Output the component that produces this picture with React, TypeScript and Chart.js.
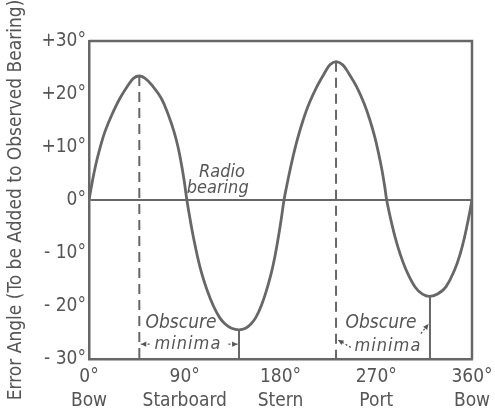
import React, { useEffect, useRef } from "react";
import { Chart, registerables } from "chart.js";

Chart.register(...registerables);

// Bearing (degrees) and error angle (degrees)
const curveDeg = [
  0, 3.1, 6.3, 10.3, 15, 21.3, 29.1, 36.9, 42, 47.3, 52.5, 58.9, 67.9, 74.7, 79.9, 83.9, 87.0, 89.6, 92,
  95, 98, 102, 106, 111, 116.5, 122.5, 128, 134, 141, 147.1, 152.2, 157, 162.2, 166.9, 171.2, 174.7, 178.1, 180.7, 183.3,
  185.7, 188.9, 192.5, 196.5, 201.3, 206.9, 214.2, 221.2, 226.5, 232.2, 238.5, 244.1, 251.5, 258.6, 264.0, 268.6, 272.2, 275.4, 278.0, 279.8,
  283.8, 287.7, 292.3, 298.1, 306.5, 313.5, 320.5, 328, 335.5, 343.6, 349, 353, 356.4, 360,
];
const curveErr = [
  0, 3.45, 6.6, 9.8, 12.9, 16.0, 19.2, 21.7, 23.0, 23.4, 23.0, 21.7, 19.2, 16.0, 12.9, 9.8, 6.6, 3.45, 0,
  -3.6, -6.9, -10.7, -13.9, -17.0, -19.8, -22.1, -23.4, -24.2, -24.5, -24.2, -23.4, -22.1, -19.8, -17.0, -13.9, -10.7, -6.9, -3.6, 0,
  2.5, 5.6, 8.8, 11.9, 15.1, 18.2, 21.4, 23.9, 25.5, 26.1, 25.5, 23.9, 21.4, 18.2, 15.1, 11.9, 8.8, 5.6, 2.5, 0,
  -3.8, -7.0, -10.1, -13.2, -16.4, -17.75, -18.2, -17.7, -16.4, -13.2, -10.1, -7.0, -3.8, 0,
];

const peakDeg = [47.3, 232.2];
const peakErr = [23.4, 26.1];
const minDeg = [141, 320.5];
const minErr = [-24.5, -18.2];

const xTickValues = [0, 90, 180, 270, 360];
const xTickNames = ["Bow", "Starboard", "Stern", "Port", "Bow"];
const yTickLabels: Record<string, string> = {
  "30": "+30°", "20": "+20°", "10": "+10°", "0": "0°", "-10": "- 10°", "-20": "- 20°", "-30": "- 30°",
};

const yTitle = "Error Angle (To be Added to Observed Bearing)";
const LINE = "#676767";
const TEXT = "#555555";
const FONT = "'DejaVu Sans Condensed', 'DejaVu Sans', sans-serif";

const decorPlugin = {
  id: "decor",
  afterDatasetsDraw(chart: any) {
    const { ctx, chartArea, scales } = chart;
    const x = scales.x, y = scales.y;
    ctx.save();
    // top and right frame
    ctx.strokeStyle = LINE;
    ctx.lineWidth = 2.5;
    ctx.beginPath();
    ctx.moveTo(chartArea.left, chartArea.top);
    ctx.lineTo(chartArea.right, chartArea.top);
    ctx.lineTo(chartArea.right, chartArea.bottom);
    ctx.stroke();

    ctx.fillStyle = TEXT;
    ctx.textAlign = "center";
    ctx.textBaseline = "middle";
    ctx.font = `italic 18px ${FONT}`;
    ctx.fillText("Radio", x.getPixelForValue(125), y.getPixelForValue(5.2));
    ctx.fillText("bearing", x.getPixelForValue(121), y.getPixelForValue(2.2));

    ctx.font = `italic 19px ${FONT}`;
    ctx.fillText("Obscure", x.getPixelForValue(86.5), y.getPixelForValue(-23.3));
    ctx.fillText("Obscure", x.getPixelForValue(274.5), y.getPixelForValue(-23.3));
    ctx.font = `italic 18px ${FONT}`;
    (ctx as any).letterSpacing = "1px";
    ctx.fillText("minima", x.getPixelForValue(93), y.getPixelForValue(-27.3));
    ctx.fillText("minima", x.getPixelForValue(281), y.getPixelForValue(-27.6));
    (ctx as any).letterSpacing = "0px";

    const arrow = (x1: number, y1: number, x2: number, y2: number) => {
      ctx.strokeStyle = TEXT;
      ctx.lineWidth = 1.3;
      ctx.setLineDash([2, 2]);
      ctx.beginPath();
      ctx.moveTo(x1, y1);
      ctx.lineTo(x2, y2);
      ctx.stroke();
      ctx.setLineDash([]);
      const a = Math.atan2(y2 - y1, x2 - x1);
      const h = 6;
      ctx.beginPath();
      ctx.moveTo(x2, y2);
      ctx.lineTo(x2 - h * Math.cos(a - 0.45), y2 - h * Math.sin(a - 0.45));
      ctx.lineTo(x2 - h * Math.cos(a + 0.45), y2 - h * Math.sin(a + 0.45));
      ctx.closePath();
      ctx.fillStyle = TEXT;
      ctx.fill();
    };
    const yb = y.getPixelForValue(-27.2);
    arrow(x.getPixelForValue(57), yb, x.getPixelForValue(peakDeg[0]) + 1.5, yb);
    arrow(x.getPixelForValue(131), yb, x.getPixelForValue(minDeg[0]) - 1.5, yb);
    arrow(x.getPixelForValue(246), y.getPixelForValue(-27.8), x.getPixelForValue(peakDeg[1]) + 2, y.getPixelForValue(-26.4));
    arrow(x.getPixelForValue(312), y.getPixelForValue(-25.2), x.getPixelForValue(minDeg[1]) - 1.5, y.getPixelForValue(-23.4));
    ctx.restore();
  },
};

export default function App() {
  const ref = useRef<HTMLCanvasElement>(null);
  useEffect(() => {
    if (!ref.current) return;
    const curve = curveDeg.map((d, i) => ({ x: d, y: curveErr[i] }));
    const vline = (d: number, v: number) => [{ x: d, y: v }, { x: d, y: -30 }];
    const chart = new Chart(ref.current, {
      type: "line",
      data: {
        datasets: [
          { data: curve, borderColor: LINE, borderWidth: 2.8, pointRadius: 0, tension: 0.4, fill: false },
          { data: vline(peakDeg[0], peakErr[0]), borderColor: LINE, borderWidth: 2, borderDash: [10, 6], pointRadius: 0 },
          { data: vline(peakDeg[1], peakErr[1]), borderColor: LINE, borderWidth: 2, borderDash: [10, 6], pointRadius: 0 },
          { data: vline(minDeg[0], minErr[0]), borderColor: LINE, borderWidth: 2, pointRadius: 0 },
          { data: vline(minDeg[1], minErr[1]), borderColor: LINE, borderWidth: 2, pointRadius: 0 },
        ],
      },
      options: {
        animation: false,
        responsive: false,
        maintainAspectRatio: false,
        layout: { padding: { top: 41, right: 23, left: 0, bottom: 0 } },
        plugins: { legend: { display: false }, tooltip: { enabled: false } },
        scales: {
          x: {
            type: "linear",
            min: 0,
            max: 360,
            afterBuildTicks: (s: any) => { s.ticks = xTickValues.map((v) => ({ value: v })); },
            afterFit: (s: any) => { s.height = 55; s.paddingLeft = 0; s.paddingRight = 0; },
            ticks: {
              color: TEXT,
              font: { family: FONT, size: 19, lineHeight: 1.25 },
              padding: 6,
              maxRotation: 0,
              autoSkip: false,
              callback: (v: any) => {
                const i = xTickValues.indexOf(Number(v));
                return i >= 0 ? [`${v}°`, xTickNames[i]] : "";
              },
            },
            grid: { display: false, drawTicks: false },
            border: { display: true, color: LINE, width: 2.5 },
          },
          y: {
            type: "linear",
            min: -30,
            max: 30,
            afterFit: (s: any) => { s.width = 89; s.paddingTop = 0; s.paddingBottom = 0; },
            ticks: {
              stepSize: 10,
              color: TEXT,
              padding: 3,
              font: { family: FONT, size: 19 },
              callback: (v: any) => yTickLabels[String(v)] ?? "",
            },
            grid: {
              drawTicks: false,
              color: (c: any) => (c.tick && c.tick.value === 0 ? LINE : "transparent"),
              lineWidth: 2,
            },
            border: { display: true, color: LINE, width: 2.5 },
            title: {
              display: true,
              text: yTitle,
              color: TEXT,
              font: { family: FONT, size: 19 },
              padding: { top: 5, bottom: 0 },
            },
          },
        },
      },
      plugins: [decorPlugin],
    } as any);
    return () => chart.destroy();
  }, []);
  return (
    <div style={{ position: "absolute", left: 0, top: 0, width: 495, height: 414, background: "#fff" }}>
      <canvas ref={ref} width={495} height={414} style={{ width: 495, height: 414 }} />
    </div>
  );
}
